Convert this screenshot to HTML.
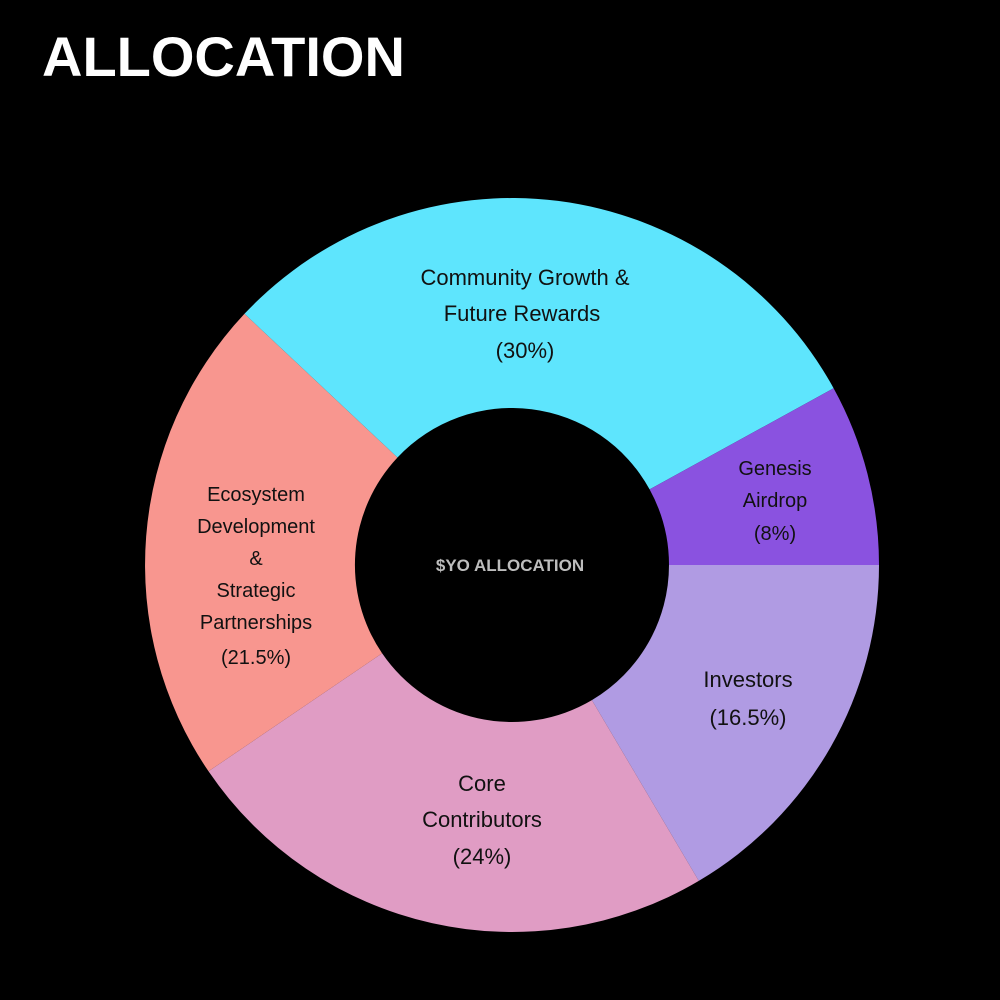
<!DOCTYPE html>
<html><head><meta charset="utf-8"><style>
html,body{margin:0;padding:0;background:#000;width:1000px;height:1000px;overflow:hidden}
</style></head><body>
<svg width="1000" height="1000" viewBox="0 0 1000 1000" xmlns="http://www.w3.org/2000/svg">
<rect width="1000" height="1000" fill="#000"/>
<text x="42" y="76" font-family="Liberation Sans, sans-serif" font-weight="bold" font-size="56" fill="#fff">ALLOCATION</text>
<g stroke="none">
<path d="M879,565 A367,367 0 0 1 698.8,880.9 L591.9,700.1 A157,157 0 0 0 669,565 Z" fill="#b09be3"/>
<path d="M698.8,880.9 A367,367 0 0 1 208.5,771.3 L382.1,653.3 A157,157 0 0 0 591.9,700.1 Z" fill="#e09cc4"/>
<path d="M208.5,771.3 A367,367 0 0 1 244.5,313.8 L397.5,457.5 A157,157 0 0 0 382.1,653.3 Z" fill="#f8968f"/>
<path d="M244.5,313.8 A367,367 0 0 1 833.6,388.2 L649.6,489.4 A157,157 0 0 0 397.5,457.5 Z" fill="#5ee5fd"/>
<path d="M833.6,388.2 A367,367 0 0 1 879,565 L669,565 A157,157 0 0 0 649.6,489.4 Z" fill="#8a52e0"/>
</g>
<g font-family="Liberation Sans, sans-serif" fill="#111" text-anchor="middle">
<g font-size="22">
<text x="525" y="285">Community Growth &amp;</text>
<text x="522" y="321">Future Rewards</text>
<text x="525" y="358">(30%)</text>
<text x="748" y="687">Investors</text>
<text x="748" y="725">(16.5%)</text>
<text x="482" y="791">Core</text>
<text x="482" y="827">Contributors</text>
<text x="482" y="864">(24%)</text>
</g>
<g font-size="20">
<text x="775" y="475">Genesis</text>
<text x="775" y="507">Airdrop</text>
<text x="775" y="540">(8%)</text>
<text x="256" y="501">Ecosystem</text>
<text x="256" y="533">Development</text>
<text x="256" y="565">&amp;</text>
<text x="256" y="597">Strategic</text>
<text x="256" y="629">Partnerships</text>
<text x="256" y="664">(21.5%)</text>
</g>
</g>
<text x="510" y="571" font-family="Liberation Sans, sans-serif" font-weight="bold" font-size="17" fill="#bdbdbd" text-anchor="middle">$YO ALLOCATION</text>
</svg>
</body></html>
